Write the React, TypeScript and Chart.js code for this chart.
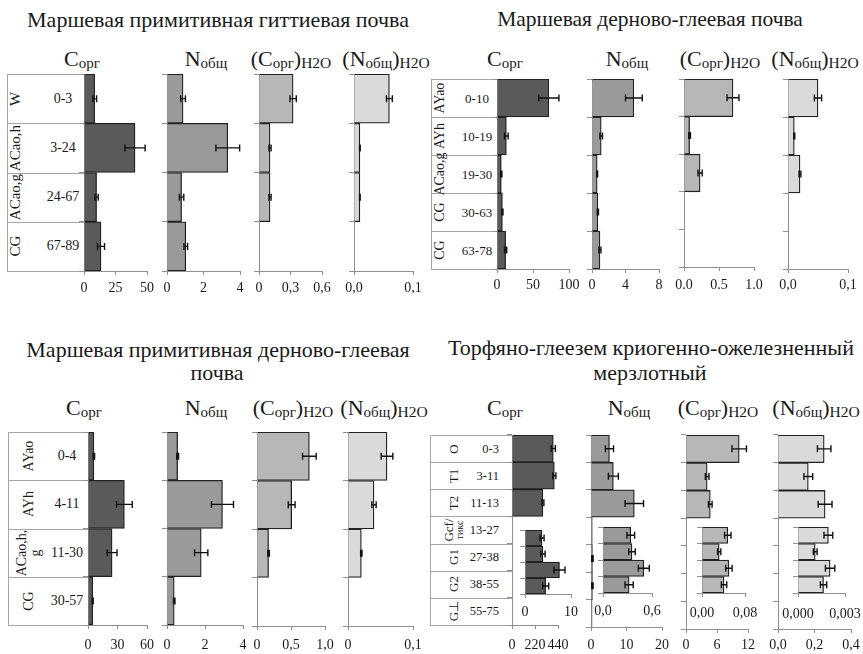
import React, { useEffect, useRef } from "react";
import { Chart, registerables } from "chart.js";
Chart.register(...registerables);

// ---------- Panel 1: Маршевая примитивная гиттиевая почва ----------
const p1Horizons = ["W", "ACao,h", "ACao,g", "CG"];
const p1Depths = ["0-3", "3-24", "24-67", "67-89"];
const p1Corg = [8.5, 40.5, 10, 13.5];
const p1CorgErr = [1.5, 8, 1.3, 2.8];
const p1N = [0.88, 3.33, 0.8, 1.03];
const p1NErr = [0.13, 0.65, 0.12, 0.1];
const p1CH = [0.325, 0.105, 0.105, null];
const p1CHErr = [0.03, 0.01, 0.01, 0];
const p1NH = [0.06, 0.01, 0.01, null];
const p1NHErr = [0.005, 0.0005, 0.0005, 0];

// ---------- Panel 2: Маршевая дерново-глеевая почва ----------
const p2Horizons = ["AYao", "AYh", "ACao,g", "CG", "CG"];
const p2Depths = ["0-10", "10-19", "19-30", "30-63", "63-78"];
const p2Corg = [72, 13, 6, 7.5, 12];
const p2CorgErr = [14, 2.5, 0.8, 0.8, 1.5];
const p2N = [5.0, 1.1, 0.62, 0.7, 0.95];
const p2NErr = [1.0, 0.15, 0.05, 0.07, 0.12];
const p2CH = [0.7, 0.08, 0.23, null, null];
const p2CHErr = [0.085, 0.012, 0.03, 0, 0];
const p2NH = [0.05, 0.0105, 0.02, null, null];
const p2NHErr = [0.006, 0.0008, 0.0015, 0, 0];

// ---------- Panel 3: Маршевая примитивная дерново-глеевая почва ----------
const p3Horizons = ["AYao", "AYh", "ACao,h,\ng", "CG"];
const p3Depths = ["0-4", "4-11", "11-30", "30-57"];
const p3Corg = [6, 37, 24.5, 4.8];
const p3CorgErr = [0.7, 8, 5, 0.5];
const p3N = [0.56, 2.92, 1.8, 0.38];
const p3NErr = [0.05, 0.58, 0.35, 0.04];
const p3CH = [0.77, 0.51, 0.17, null];
const p3CHErr = [0.1, 0.05, 0.012, 0];
const p3NH = [0.06, 0.04, 0.0205, null];
const p3NHErr = [0.009, 0.0033, 0.001, 0];

// ---------- Panel 4: Торфяно-глеезем криогенно-ожелезненный мерзлотный ----------
const p4Horizons = ["O", "T1", "T2", "Gcf/\nтикс", "G1", "G2", "G⊥"];
const p4Depths = ["0-3", "3-11", "11-13", "13-27", "27-38", "38-55", "55-75"];
const p4Corg = [395, 405, 295, null, null, null, null];
const p4CorgErr = [20, 15, 10, 0, 0, 0, 0];
const p4CorgLower = [3.7, 3.9, 7.5, 4.5];
const p4CorgLowerErr = [0.45, 0.47, 1.2, 0.65];
const p4N = [5.2, 6.3, 12.2, 0.35, 0.4, 0.4, 0.3];
const p4NErr = [1.15, 1.4, 2.6, 0, 0.2, 0.2, 0];
const p4NLower = [0.34, 0.355, 0.5, 0.32];
const p4NLowerErr = [0.047, 0.04, 0.067, 0.05];
const p4CH = [10.3, 4.1, 4.7, null, null, null, null];
const p4CHErr = [1.4, 0.35, 0.35, 0, 0, 0, 0];
const p4CHLower = [0.048, 0.032, 0.05, 0.041];
const p4CHLowerErr = [0.006, 0.003, 0.006, 0.005];
const p4NH = [0.253, 0.166, 0.258, null, null, null, null];
const p4NHErr = [0.037, 0.024, 0.038, 0, 0, 0, 0];
const p4NHLower = [0.00194, 0.0011, 0.00205, 0.00163];
const p4NHLowerErr = [0.00028, 0.00012, 0.0003, 0.0002];

// ---------- Tick labels ----------
const tCorg1 = ["0", "25", "50"];
const tN1 = ["0", "2", "4"];
const tCH1 = ["0", "0,3", "0,6"];
const tNH1 = ["0,0", "0,1"];
const tCorg2 = ["0", "50", "100"];
const tN2 = ["0", "4", "8"];
const tCH2 = ["0.0", "0.5", "1.0"];
const tNH2 = ["0,0", "0,1"];
const tCorg3 = ["0", "30", "60"];
const tN3 = ["0", "2", "4"];
const tCH3 = ["0", "0,5", "1,0"];
const tNH3 = ["0", "0,1"];
const tCorg4 = ["0", "220", "440"];
const tCorg4L = ["0", "10"];
const tN4 = ["0", "10", "20"];
const tN4L = ["0,0", "0,6"];
const tCH4 = ["0", "6", "12"];
const tCH4L = ["0,00", "0,08"];
const tNH4 = ["0,0", "0,2", "0,4"];
const tNH4L = ["0,000", "0,003"];

const FONT = '"Liberation Serif", "Times New Roman", serif';
const C_CORG = "#5a5a5a";
const C_N = "#9a9a9a";
const C_CH = "#b7b7b7";
const C_NH = "#dadada";
const AXIS = "#8f8f8f";
const TXT = "#1a1a1a";

type Spec = {
  values: (number | null)[];
  errors: number[];
  color: string;
  max: number;
  step: number;
  ticks: string[];
  x0: number;
  x1: number;
  yTop: number;
  yBot: number;
  pad: number;
};

function HBar({ s }: { s: Spec }) {
  const ref = useRef<HTMLCanvasElement | null>(null);
  const L = 40, R = 30, T = 4, B = 32;
  const w = L + (s.x1 - s.x0) + R;
  const h = T + (s.yBot - s.yTop) + B;
  useEffect(() => {
    if (!ref.current) return;
    const errPlugin = {
      id: "errbars",
      afterDatasetsDraw(chart: any) {
        const meta = chart.getDatasetMeta(0);
        const xs = chart.scales.x;
        const ctx = chart.ctx;
        ctx.save();
        ctx.strokeStyle = "#111";
        ctx.lineWidth = 1.4;
        s.values.forEach((v, i) => {
          const e = s.errors[i];
          if (v == null || !e) return;
          const y = meta.data[i].y;
          const a = xs.getPixelForValue(v - e);
          const b = xs.getPixelForValue(v + e);
          const cap = 3.5;
          ctx.beginPath();
          ctx.moveTo(a, y);
          ctx.lineTo(b, y);
          ctx.moveTo(a, y - cap);
          ctx.lineTo(a, y + cap);
          ctx.moveTo(b, y - cap);
          ctx.lineTo(b, y + cap);
          ctx.stroke();
        });
        ctx.restore();
      },
    };
    const chart = new Chart(ref.current, {
      type: "bar",
      data: {
        labels: s.values.map((_, i) => String(i)),
        datasets: [
          {
            data: s.values as any,
            backgroundColor: s.color,
            borderColor: "#222",
            borderWidth: 1.3,
            barPercentage: 1,
            categoryPercentage: 1,
            borderSkipped: "start",
          },
        ],
      },
      options: {
        indexAxis: "y",
        responsive: false,
        animation: false,
        devicePixelRatio: 1,
        events: [],
        layout: { padding: { top: T, right: R, left: 0, bottom: 0 } },
        plugins: {
          legend: { display: false },
          tooltip: { enabled: false },
          title: { display: false },
        },
        scales: {
          x: {
            type: "linear",
            position: "bottom",
            min: 0,
            max: s.max,
            ticks: {
              stepSize: s.step,
              autoSkip: false,
              maxRotation: 0,
              padding: s.pad,
              color: TXT,
              font: { family: FONT, size: 14 },
              callback: (_v: any, idx: number) => s.ticks[idx] ?? "",
            },
            grid: { drawOnChartArea: false, drawTicks: true, tickLength: 4, color: AXIS },
            border: { display: true, color: AXIS, width: 1 },
            afterFit: (sc: any) => {
              sc.height = B;
              sc.paddingLeft = 0;
              sc.paddingRight = 0;
            },
          },
          y: {
            type: "category",
            position: "left",
            offset: true,
            ticks: { display: false },
            grid: { offset: true, drawOnChartArea: false, drawTicks: true, tickLength: 5, color: AXIS },
            border: { display: true, color: AXIS, width: 1 },
            afterFit: (sc: any) => {
              sc.width = L;
              sc.paddingTop = 0;
              sc.paddingBottom = 0;
            },
          },
        },
      } as any,
      plugins: [errPlugin],
    });
    return () => chart.destroy();
  }, []);
  return (
    <canvas
      ref={ref}
      width={w}
      height={h}
      style={{ position: "absolute", left: s.x0 - L, top: s.yTop - T, width: w, height: h }}
    />
  );
}

function Txt({ x, baseline, size, children, align = "center" }: any) {
  const tr = align === "center" ? "translateX(-50%)" : align === "right" ? "translateX(-100%)" : "none";
  return (
    <div
      style={{
        position: "absolute",
        left: x,
        top: baseline - 0.8375 * size,
        fontFamily: FONT,
        fontSize: size,
        lineHeight: 1,
        whiteSpace: "nowrap",
        color: TXT,
        transform: tr,
      }}
    >
      {children}
    </div>
  );
}

function Sub({ x, baseline, kind }: { x: number; baseline: number; kind: string }) {
  const big = 22;
  const sm: React.CSSProperties = { fontSize: 15, verticalAlign: "-2px" };
  const h2o: React.CSSProperties = { fontSize: 15.5, verticalAlign: "-2px" };
  let content: any = null;
  if (kind === "C") content = (<>C<span style={sm}>орг</span></>);
  if (kind === "N") content = (<>N<span style={sm}>общ</span></>);
  if (kind === "CH") content = (<>(C<span style={sm}>орг</span>)<span style={h2o}>H2O</span></>);
  if (kind === "NH") content = (<>(N<span style={sm}>общ</span>)<span style={h2o}>H2O</span></>);
  return <Txt x={x} baseline={baseline} size={big}>{content}</Txt>;
}

function Table({
  x0, x1, yTop, yBot, horizons, depths, hx, dx, hSize, dSize, dAlign = "center",
}: any) {
  const n = horizons.length;
  const rh = (yBot - yTop) / n;
  const els: any[] = [];
  for (let i = 0; i <= n; i++) {
    els.push(
      <div key={"l" + i} style={{ position: "absolute", left: x0, top: Math.round(yTop + i * rh), width: x1 - x0, height: 1, background: "#a6a6a6" }} />
    );
  }
  els.push(
    <div key="v" style={{ position: "absolute", left: x0, top: yTop, width: 1, height: yBot - yTop, background: "#a6a6a6" }} />
  );
  horizons.forEach((hz: string, i: number) => {
    const cy = yTop + (i + 0.5) * rh;
    const lines = hz.split("\n");
    els.push(
      <div
        key={"h" + i}
        style={{
          position: "absolute",
          left: hx,
          top: cy,
          transform: "translate(-50%,-50%) rotate(-90deg)",
          fontFamily: FONT,
          fontSize: hSize,
          lineHeight: 1,
          whiteSpace: "nowrap",
          textAlign: "center",
          color: TXT,
        }}
      >
        {lines.map((ln, k) => (
          <div key={k} style={k > 0 ? { fontSize: hz.startsWith("Gcf") ? hSize - 3 : hSize } : undefined}>{ln}</div>
        ))}
      </div>
    );
    const tr = dAlign === "right" ? "translate(-100%,-50%)" : "translate(-50%,-50%)";
    els.push(
      <div
        key={"d" + i}
        style={{
          position: "absolute",
          left: dx,
          top: cy,
          transform: tr,
          fontFamily: FONT,
          fontSize: dSize,
          lineHeight: 1,
          whiteSpace: "nowrap",
          color: TXT,
        }}
      >
        {depths[i]}
      </div>
    );
  });
  return <>{els}</>;
}

const specs: Spec[] = [
  // Panel 1
  { values: p1Corg, errors: p1CorgErr, color: C_CORG, max: 50, step: 25, ticks: tCorg1, x0: 84, x1: 147, yTop: 74, yBot: 271, pad: 5 },
  { values: p1N, errors: p1NErr, color: C_N, max: 4, step: 2, ticks: tN1, x0: 167, x1: 240, yTop: 74, yBot: 271, pad: 5 },
  { values: p1CH, errors: p1CHErr, color: C_CH, max: 0.6, step: 0.3, ticks: tCH1, x0: 259, x1: 322, yTop: 74, yBot: 271, pad: 5 },
  { values: p1NH, errors: p1NHErr, color: C_NH, max: 0.1, step: 0.1, ticks: tNH1, x0: 354, x1: 413, yTop: 74, yBot: 271, pad: 5 },
  // Panel 2
  { values: p2Corg, errors: p2CorgErr, color: C_CORG, max: 100, step: 50, ticks: tCorg2, x0: 497, x1: 569, yTop: 79, yBot: 269, pad: 4 },
  { values: p2N, errors: p2NErr, color: C_N, max: 8, step: 4, ticks: tN2, x0: 592, x1: 659, yTop: 79, yBot: 269, pad: 4 },
  { values: p2CH, errors: p2CHErr, color: C_CH, max: 1, step: 0.5, ticks: tCH2, x0: 684, x1: 754, yTop: 79, yBot: 267, pad: 6 },
  { values: p2NH, errors: p2NHErr, color: C_NH, max: 0.1, step: 0.1, ticks: tNH2, x0: 788, x1: 848, yTop: 79, yBot: 269, pad: 4 },
  // Panel 3
  { values: p3Corg, errors: p3CorgErr, color: C_CORG, max: 60, step: 30, ticks: tCorg3, x0: 88, x1: 147, yTop: 432, yBot: 625, pad: 8 },
  { values: p3N, errors: p3NErr, color: C_N, max: 4, step: 2, ticks: tN3, x0: 167, x1: 243, yTop: 432, yBot: 625, pad: 8 },
  { values: p3CH, errors: p3CHErr, color: C_CH, max: 1, step: 0.5, ticks: tCH3, x0: 257, x1: 325, yTop: 432, yBot: 626, pad: 7 },
  { values: p3NH, errors: p3NHErr, color: C_NH, max: 0.1, step: 0.1, ticks: tNH3, x0: 348, x1: 413, yTop: 432, yBot: 626, pad: 7 },
  // Panel 4 outer
  { values: p4Corg, errors: p4CorgErr, color: C_CORG, max: 440, step: 220, ticks: tCorg4, x0: 512, x1: 558, yTop: 435, yBot: 625, pad: 8 },
  { values: p4N, errors: p4NErr, color: C_N, max: 20, step: 10, ticks: tN4, x0: 591, x1: 662, yTop: 435, yBot: 627, pad: 6 },
  { values: p4CH, errors: p4CHErr, color: C_CH, max: 12, step: 6, ticks: tCH4, x0: 686, x1: 748, yTop: 435, yBot: 629, pad: 4 },
  { values: p4NH, errors: p4NHErr, color: C_NH, max: 0.4, step: 0.2, ticks: tNH4, x0: 778, x1: 851, yTop: 435, yBot: 629, pad: 4 },
  // Panel 4 insets
  { values: p4CorgLower, errors: p4CorgLowerErr, color: C_CORG, max: 10, step: 10, ticks: tCorg4L, x0: 525, x1: 571, yTop: 530, yBot: 594, pad: 6 },
  { values: p4NLower, errors: p4NLowerErr, color: C_N, max: 0.6, step: 0.6, ticks: tN4L, x0: 603, x1: 652, yTop: 527, yBot: 593, pad: 6 },
  { values: p4CHLower, errors: p4CHLowerErr, color: C_CH, max: 0.08, step: 0.08, ticks: tCH4L, x0: 702, x1: 745, yTop: 527, yBot: 593, pad: 8 },
  { values: p4NHLower, errors: p4NHLowerErr, color: C_NH, max: 0.003, step: 0.003, ticks: tNH4L, x0: 798, x1: 845, yTop: 527, yBot: 593, pad: 9 },
];

export default function App() {
  return (
    <div style={{ position: "absolute", left: 0, top: 0, width: 863, height: 654, background: "#fff", overflow: "hidden" }}>
      {/* Titles */}
      <Txt x={218} baseline={27} size={22}>Маршевая примитивная гиттиевая почва</Txt>
      <Txt x={650} baseline={27} size={21.5}>Маршевая дерново-глеевая почва</Txt>
      <Txt x={218} baseline={357} size={22}>Маршевая примитивная дерново-глеевая</Txt>
      <Txt x={217} baseline={380} size={22}>почва</Txt>
      <Txt x={651} baseline={355} size={22}>Торфяно-глеезем криогенно-ожелезненный</Txt>
      <Txt x={650} baseline={380} size={22}>мерзлотный</Txt>

      {/* Sub-titles */}
      <Sub x={82} baseline={66} kind="C" />
      <Sub x={206} baseline={66} kind="N" />
      <Sub x={291} baseline={66} kind="CH" />
      <Sub x={386} baseline={66} kind="NH" />
      <Sub x={505} baseline={66} kind="C" />
      <Sub x={627} baseline={66} kind="N" />
      <Sub x={720} baseline={66} kind="CH" />
      <Sub x={815} baseline={66} kind="NH" />
      <Sub x={84} baseline={415} kind="C" />
      <Sub x={206} baseline={415} kind="N" />
      <Sub x={293} baseline={415} kind="CH" />
      <Sub x={384} baseline={415} kind="NH" />
      <Sub x={505} baseline={415} kind="C" />
      <Sub x={629} baseline={415} kind="N" />
      <Sub x={718} baseline={415} kind="CH" />
      <Sub x={816} baseline={415} kind="NH" />

      {/* Horizon / depth tables */}
      <Table x0={7} x1={84} yTop={74} yBot={271} horizons={p1Horizons} depths={p1Depths} hx={15} dx={63} hSize={15} dSize={14} />
      <Table x0={431} x1={497} yTop={79} yBot={269} horizons={p2Horizons} depths={p2Depths} hx={440} dx={477} hSize={14} dSize={13} />
      <Table x0={8} x1={88} yTop={432} yBot={625} horizons={p3Horizons} depths={p3Depths} hx={29} dx={67} hSize={14} dSize={14} />
      <Table x0={430} x1={512} yTop={435} yBot={625} horizons={p4Horizons} depths={p4Depths} hx={453} dx={499} hSize={13} dSize={12.5} dAlign="right" />

      {specs.map((s, i) => (
        <HBar key={i} s={s} />
      ))}
    </div>
  );
}
